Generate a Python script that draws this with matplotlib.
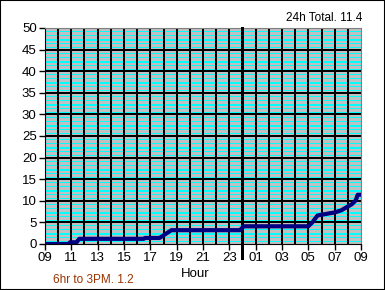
import numpy as np
import matplotlib
matplotlib.use('Agg')
import matplotlib.pyplot as plt
from matplotlib.patches import Rectangle

plt.rcParams['font.family'] = ['Liberation Sans', 'DejaVu Sans']

# hours counted from 09:00 (9) through next day 09:00 (33)
hours = [9.0, 10.8, 10.9, 11.4, 11.6, 16.5, 16.6, 17.7, 18.0, 18.3, 18.6,
         23.8, 24.1, 29.0, 29.3, 29.7, 30.6, 31.0, 31.5, 31.9, 32.3, 32.6, 32.75, 33.0]
rain = [0.0, 0.0, 0.4, 0.4, 1.2, 1.2, 1.4, 1.4, 2.0, 2.6, 3.2,
        3.2, 4.1, 4.1, 5.0, 6.6, 7.1, 7.3, 7.8, 8.5, 9.2, 10.1, 11.4, 11.4]
tick_hours = list(range(9, 34, 2))
tick_labels = ['%02d' % (h % 24) for h in tick_hours]
total_text = '24h Total. 11.4'
partial_text = '6hr to 3PM. 1.2'

fig = plt.figure(figsize=(3.85, 2.9), dpi=100)
ax = fig.add_axes([45/385, 46/290, 316/385, 216/290])
ax.set_facecolor('none')

# silver background with cyan stripes, placed pixel for pixel behind the axes
rows, cols = 216, 316
bg = np.zeros((rows, cols, 3))
for r in range(rows):
    off = int(round(r % (rows / 10)))
    bg[r, :] = (0, 1, 1) if off in (3, 7, 11, 12, 15, 19) else (0.753, 0.753, 0.753)
fig.figimage(bg, xo=45, yo=46, origin='upper', zorder=-1)

for v in range(5, 50, 5):
    ax.axhline(v, color='black', lw=1.3, zorder=2, antialiased=False)
for h in range(10, 33):
    ax.axvline(h, color='black', lw=1.3, zorder=2, antialiased=False)
# midnight marker
ax.plot([24, 24], [-3.3, 50], color='black', lw=1.8, clip_on=False, zorder=3,
        antialiased=False)

ax.plot(hours, rain, color='#000080', lw=3, zorder=4, solid_capstyle='butt')

ax.set_xlim(9, 33)
ax.set_ylim(0, 50)
ax.set_yticks(range(0, 51, 5))
ax.set_xticks(tick_hours)
ax.set_xticklabels(tick_labels)
ax.tick_params(axis='both', direction='out', length=4, width=1, color='black',
               labelsize=9.5, pad=2)
for s in ['top', 'right']:
    ax.spines[s].set_color('#808080')
for s in ['left', 'bottom']:
    ax.spines[s].set_color('black')

fig.text(195/385, 1 - 274/290, 'Hour', ha='center', va='center', fontsize=9.5)
fig.text(362/385, 1 - 18/290, total_text, ha='right', va='center', fontsize=8.5)
fig.text(93/385, 1 - 280/290, partial_text, ha='center', va='center', fontsize=8.5,
         color='#993300')

fig.patches.append(Rectangle((0, 0), 1, 1, transform=fig.transFigure, fill=False,
                             edgecolor='black', lw=1.5))

fig.savefig('out.png', dpi=100, facecolor='white')
